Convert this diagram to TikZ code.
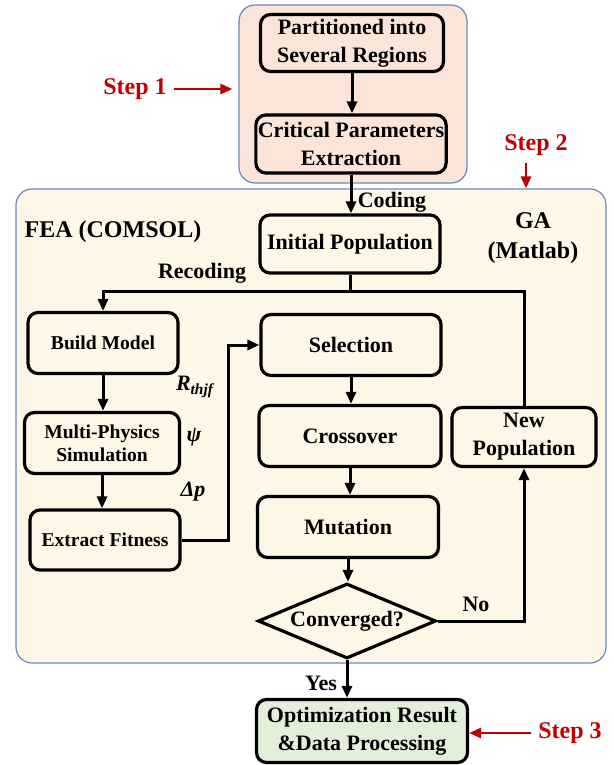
\documentclass[tikz,border=0pt]{standalone}
\usepackage{fontspec}
\setmainfont{Liberation Serif}
\usetikzlibrary{shapes.geometric,arrows.meta}
\definecolor{regionblue}{HTML}{6C89BF}
\definecolor{pinkfill}{HTML}{FBE5D8}
\definecolor{creamfill}{HTML}{FEF6E6}
\definecolor{greenfill}{HTML}{E2EFDA}
\definecolor{stepred}{HTML}{C00000}
\begin{document}
\begin{tikzpicture}[x=0.5pt,y=-0.5pt,font=\bfseries\fontsize{11}{14}\selectfont,
    box/.style={draw,line width=1.6pt,rounded corners=5pt,align=center,inner sep=1pt},
    smallbox/.style={box,font=\bfseries\fontsize{9.8}{11.5}\selectfont},
    region/.style={draw=regionblue,line width=0.6pt,rounded corners=8pt},
    link/.style={line width=1.5pt},
    arr/.style={link,-{Triangle[length=6pt,width=5pt]}},
    steparr/.style={draw=stepred,line width=1.4pt,-{Triangle[length=6pt,width=5pt]}},
    steplabel/.style={text=stepred,font=\bfseries\fontsize{12}{14}\selectfont},
    biglabel/.style={align=center,font=\bfseries\fontsize{12}{15}\selectfont}]
    \useasboundingbox (0,0) rectangle (614,765);
    % regions
    \node[region,fill=pinkfill,minimum width=114pt,minimum height=89pt] (reg1) at (353,94) {};
    \node[region,fill=creamfill,minimum width=295pt,minimum height=237pt] (reg2) at (311,426) {};
    % step 1
    \node[box,minimum width=91.5pt,minimum height=28.5pt] (part) at (352,43) {Partitioned into\\Several Regions};
    \node[box,minimum width=91pt,minimum height=29pt] (crit) at (351,144) {Critical Parameters\\Extraction};
    % step 2: GA column
    \node[box,minimum width=90pt,minimum height=29pt] (init) at (350,244) {Initial Population};
    \node[box,minimum width=90pt,minimum height=30.5pt] (sel) at (351,345) {Selection};
    \node[box,minimum width=91pt,minimum height=30.5pt] (cross) at (350,436) {Crossover};
    \node[box,minimum width=90.5pt,minimum height=30.5pt] (mut) at (348,527) {Mutation};
    \node[draw,diamond,line width=1.6pt,aspect=2.4,inner sep=0pt,minimum width=89pt,minimum height=37.5pt] (conv) at (347,621) {Converged?};
    \node[box,minimum width=72pt,minimum height=29.5pt] (newpop) at (524,437) {New\\Population};
    % FEA column
    \node[smallbox,minimum width=75pt,minimum height=30.5pt] (build) at (103,343) {Build Model};
    \node[smallbox,minimum width=77.5pt,minimum height=30.5pt] (multi) at (102,443) {Multi-Physics\\Simulation};
    \node[smallbox,minimum width=75pt,minimum height=30pt] (extr) at (105,540) {Extract Fitness};
    % step 3
    \node[box,fill=greenfill,minimum width=105.5pt,minimum height=31.5pt] (opt) at (362,731) {Optimization Result\\\&Data Processing};
    % labels
    \node (coding) at (392,202) {Coding};
    \node (recoding) at (202,273) {Recoding};
    \node[biglabel] (fea) at (113,232) {FEA (COMSOL)};
    \node[biglabel] (ga) at (533,238) {GA\\(Matlab)};
    \node (rth) at (195,387) {\itshape R\textsubscript{thjf}};
    \node (psi) at (194,437) {\itshape ψ};
    \node (dp) at (193,492) {\itshape Δp};
    \node (no) at (476,604) {No};
    \node (yes) at (321,683) {Yes};
    \node[steplabel] (step1) at (135,89) {Step 1};
    \node[steplabel] (step2) at (536,145) {Step 2};
    \node[steplabel] (step3) at (570,733) {Step 3};
    % connectors
    \coordinate (rec) at (350,291);
    \draw[arr] (part) -- (part |- crit.north);
    \draw[arr] (crit) -- (crit |- init.north);
    \draw[link] (init) -- (rec);
    \draw[arr] (rec) -| (build);
    \draw[link] (newpop) |- (rec);
    \draw[arr] (build) -- (build |- multi.north);
    \draw[arr] (multi) -- (multi |- extr.north);
    \draw[arr] (extr.east) -- ++(47,0) |- (sel.west);
    \draw[arr] (sel) -- (sel |- cross.north);
    \draw[arr] (cross) -- (cross |- mut.north);
    \draw[arr] (mut) -- (mut |- conv.north);
    \draw[arr] (conv.east) -| (newpop.south);
    \draw[arr] (conv.south) -- (conv.south |- opt.north);
    \draw[steparr] (step1.east) -- ([xshift=-3pt]step1.east -| reg1.west);
    \draw[steparr] ([xshift=-5pt]step2.south) -- ([xshift=-5pt]step2.south |- reg2.north);
    \draw[steparr] (step3.west) -- (step3.west -| opt.east);
\end{tikzpicture}
\end{document}
